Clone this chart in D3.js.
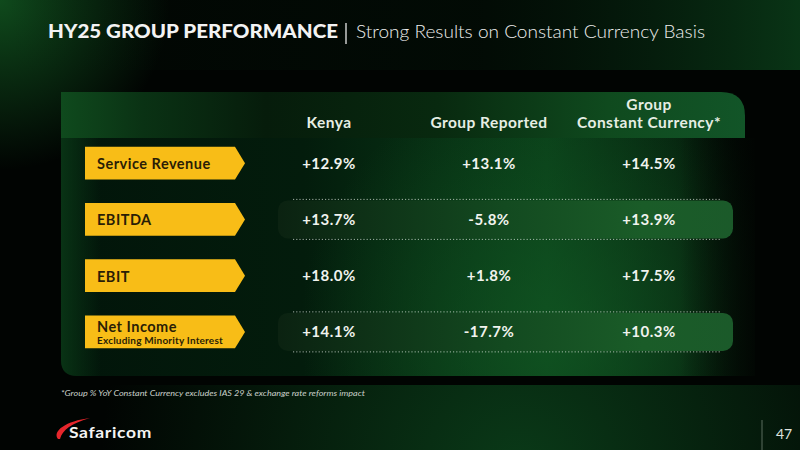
<!DOCTYPE html>
<html><head><meta charset="utf-8">
<script src="https://cdn.jsdelivr.net/npm/d3@7"></script>
<style>html,body{margin:0;padding:0;background:#000;}svg{display:block;}</style>
</head><body>
<svg id="chart" width="800" height="450"></svg>
<script>
// ---- data ----
const metrics = ["Service Revenue", "EBITDA", "EBIT", "Net Income"];
const metricSubs = ["", "", "", "Excluding Minority Interest"];
const columns = ["Kenya", "Group Reported", "Group Constant Currency*"];
const headerLines = [["Kenya"], ["Group Reported"], ["Group", "Constant Currency*"]];
const kenya = [12.9, 13.7, 18.0, 14.1];
const groupReported = [13.1, -5.8, 1.8, -17.7];
const groupConstant = [14.5, 13.9, 17.5, 10.3];
const title = "HY25 GROUP PERFORMANCE";
const subtitle = "Strong Results on Constant Currency Basis";
const footnote = "*Group % YoY Constant Currency excludes IAS 29 & exchange rate reforms impact";
const pageNo = "47";
const brand = "Safaricom";

const series = [kenya, groupReported, groupConstant];
const FONT = "Lato, 'Open Sans', sans-serif";

const svg = d3.select("#chart");
const defs = svg.append("defs");

function lin(id, x1, y1, x2, y2, stops, units) {
  const g = defs.append("linearGradient").attr("id", id)
    .attr("x1", x1).attr("y1", y1).attr("x2", x2).attr("y2", y2);
  if (units) g.attr("gradientUnits", units);
  stops.forEach(s => g.append("stop").attr("offset", s[0]).attr("stop-color", s[1]).attr("stop-opacity", s[2] == null ? 1 : s[2]));
}
function rad(id, cx, cy, r, stops, units) {
  const g = defs.append("radialGradient").attr("id", id).attr("cx", cx).attr("cy", cy).attr("r", r);
  if (units) g.attr("gradientUnits", units);
  stops.forEach(s => g.append("stop").attr("offset", s[0]).attr("stop-color", s[1]).attr("stop-opacity", s[2] == null ? 1 : s[2]));
}

// background
svg.append("rect").attr("width", 800).attr("height", 450).attr("fill", "#010402");
rad("glowTL", 0, 0, 170, [[0, "#0f4a1c", 1], [1, "#0f4a1c", 0]], "userSpaceOnUse");
svg.append("rect").attr("width", 800).attr("height", 450).attr("fill", "url(#glowTL)");
lin("topBand", 0, 0, 1, 0, [[0, "#06240f", 0.0], [0.6, "#041a0b", 0.3], [1, "#0a3a18", 0.9]]);
svg.append("rect").attr("width", 800).attr("height", 70).attr("fill", "url(#topBand)");
rad("glowBottom", 520, 470, 420, [[0, "#0a3a18", 1], [1, "#0a3a18", 0]], "userSpaceOnUse");
svg.append("rect").attr("y", 385).attr("width", 800).attr("height", 65).attr("fill", "url(#glowBottom)");

// title
svg.append("text").attr("x", 48).attr("y", 38).attr("font-family", FONT)
  .attr("font-size", 18.5).attr("font-weight", 900).attr("fill", "#f3f3f3").text(title)
  .attr("textLength", 290).attr("lengthAdjust", "spacingAndGlyphs");
svg.append("line").attr("x1", 346).attr("x2", 346).attr("y1", 23).attr("y2", 44)
  .attr("stroke", "#e8e8e8").attr("stroke-width", 1.3);
svg.append("text").attr("x", 356).attr("y", 38).attr("font-family", FONT)
  .attr("font-size", 18.5).attr("font-weight", 300).attr("fill", "#eeeeee").text(subtitle)
  .attr("textLength", 349).attr("lengthAdjust", "spacingAndGlyphs");

// panel
const P = {x0: 61, x1: 745, y0: 92, yh: 138, y1: 376};
lin("panelBody", 0, 0, 1, 0, [[0, "#02150a"], [0.35, "#031c0c"], [0.7, "#0a3f19"], [0.88, "#06240f"], [1, "#020803"]]);
rad("bodyGlow", 560, 330, 260, [[0, "#125a24", 0.7], [1, "#125a24", 0]], "userSpaceOnUse");
const bodyPath = `M${P.x0},${P.yh} L${P.x1 + 10},${P.yh} L${P.x1 + 10},${P.y1} L${P.x0 + 16},${P.y1} Q${P.x0},${P.y1} ${P.x0},${P.y1 - 16} Z`;
svg.append("path").attr("d", bodyPath).attr("fill", "url(#panelBody)");
svg.append("path").attr("d", bodyPath).attr("fill", "url(#bodyGlow)");
lin("bodyFadeR", 0, 0, 1, 0, [[0, "#010402", 0], [1, "#010402", 1]]);
svg.append("rect").attr("x", 680).attr("y", P.yh).attr("width", 90).attr("height", P.y1 - P.yh).attr("fill", "url(#bodyFadeR)");
lin("bodyFadeL", 0, 0, 1, 0, [[0, "#0a3a17", 0.8], [1, "#0a3a17", 0]]);
svg.append("path").attr("d", `M${P.x0},${P.yh} L${P.x0 + 40},${P.yh} L${P.x0 + 40},${P.y1} L${P.x0 + 16},${P.y1} Q${P.x0},${P.y1} ${P.x0},${P.y1 - 16} Z`).attr("fill", "url(#bodyFadeL)");

lin("headBand", 0, 0, 1, 0, [[0, "#0f4a1d"], [0.12, "#0a3214"], [0.3, "#061c0b"], [0.55, "#08290f"], [0.8, "#0f4a1e"], [1, "#125528"]]);
const r = 24;
svg.append("path")
  .attr("d", `M${P.x0},${P.y0} L${P.x1 - r},${P.y0} Q${P.x1},${P.y0} ${P.x1},${P.y0 + r} L${P.x1},${P.yh} L${P.x0},${P.yh} Z`)
  .attr("fill", "url(#headBand)");

// scales
const y = d3.scaleBand().domain(metrics).range([135, 360]).paddingInner(0.42).paddingOuter(0.21);
const x = d3.scalePoint().domain(columns).range([329, 649]);
const fmt = d3.formatLocale({decimal: ".", thousands: ",", grouping: [3], currency: ["", ""], minus: "-"}).format("+.1f");
const fmtPct = v => fmt(v) + "%";

// highlight rows
lin("hl", 0, 0, 1, 0, [[0, "#0b2211"], [0.5, "#134a20"], [0.8, "#1a5c28"], [1, "#1b5a2a"]]);
const hlRows = metrics.filter((m, i) => i % 2 === 1);
const hl = svg.append("g").selectAll("g").data(hlRows).join("g");
hl.append("rect").attr("x", 278).attr("width", 455)
  .attr("y", d => y(d) + y.bandwidth() / 2 - 19).attr("height", 38).attr("rx", 10)
  .attr("fill", "url(#hl)");
[-20, 20].forEach(off => {
  hl.append("line").attr("x1", 293).attr("x2", 720)
    .attr("y1", d => y(d) + y.bandwidth() / 2 + off).attr("y2", d => y(d) + y.bandwidth() / 2 + off)
    .attr("stroke", "#d8e0d8").attr("stroke-width", 0.9).attr("stroke-dasharray", "1.2,2").attr("opacity", 0.85);
});

// column headers (one text per line)
const headerItems = [];
columns.forEach((c, i) => headerLines[i].forEach((ln, k) =>
  headerItems.push({col: c, text: ln, up: headerLines[i].length - 1 - k})));
svg.append("g").selectAll("text").data(headerItems).join("text")
  .attr("x", d => x(d.col)).attr("y", d => 128 - d.up * 18.5)
  .attr("text-anchor", "middle").attr("font-family", FONT)
  .attr("font-size", 15.5).attr("letter-spacing", 0.45).attr("font-weight", 700).attr("fill", "#e6eee4")
  .text(d => d.text);

// label arrows
const lab = svg.append("g").selectAll("g").data(metrics).join("g");
lab.append("path").attr("d", d => {
  const t0 = y(d), b = t0 + y.bandwidth(), c = t0 + y.bandwidth() / 2;
  return `M85,${t0} L235,${t0} L245,${c} L235,${b} L85,${b} Z`;
}).attr("fill", "#f8bd17");
lab.append("text").attr("x", 97)
  .attr("y", (d, i) => metricSubs[i] ? y(d) + 16 : y(d) + y.bandwidth() / 2 + 6)
  .attr("font-family", FONT).attr("font-size", 14.5).attr("letter-spacing", 0.5)
  .attr("font-weight", 700).attr("fill", "#2a1d06").text(d => d);
lab.filter((d, i) => metricSubs[i]).append("text").attr("x", 97)
  .attr("y", d => y(d) + 28).attr("font-family", FONT).attr("font-size", 10).attr("letter-spacing", 0.2)
  .attr("font-weight", 700).attr("fill", "#2a1d06").text(d => metricSubs[metrics.indexOf(d)]);

// values
const cells = [];
series.forEach((s, ci) => s.forEach((v, ri) => cells.push({col: columns[ci], row: metrics[ri], v})));
svg.append("g").selectAll("text").data(cells).join("text")
  .attr("x", d => x(d.col)).attr("y", d => y(d.row) + y.bandwidth() / 2 + 5.5)
  .attr("text-anchor", "middle").attr("font-family", FONT).attr("font-size", 15).attr("letter-spacing", 0.5)
  .attr("font-weight", 700).attr("fill", "#f1f3ee").text(d => fmtPct(d.v));

// footnote
svg.append("text").attr("x", 61).attr("y", 396).attr("font-family", FONT)
  .attr("font-size", 8.4).attr("font-style", "italic").attr("fill", "#c9cfc9").text(footnote)
  .attr("textLength", 304).attr("lengthAdjust", "spacingAndGlyphs");

// logo
svg.append("path").attr("d", "M58,439 C52,431 66,421 90,418 C72,423 62,430 60,439 Z").attr("fill", "#e5262c");
svg.append("text").attr("x", 69).attr("y", 438).attr("font-family", FONT)
  .attr("font-size", 16).attr("letter-spacing", 0.6).attr("font-weight", 700).attr("fill", "#f4f4f4").text(brand)
  .attr("textLength", 83).attr("lengthAdjust", "spacingAndGlyphs");

// page number
svg.append("line").attr("x1", 762).attr("x2", 762).attr("y1", 420).attr("y2", 450)
  .attr("stroke", "#5b6d5e").attr("stroke-width", 1);
svg.append("text").attr("x", 776).attr("y", 439).attr("font-family", FONT)
  .attr("font-size", 14).attr("fill", "#dfe3df").text(pageNo);
</script>
</body></html>
